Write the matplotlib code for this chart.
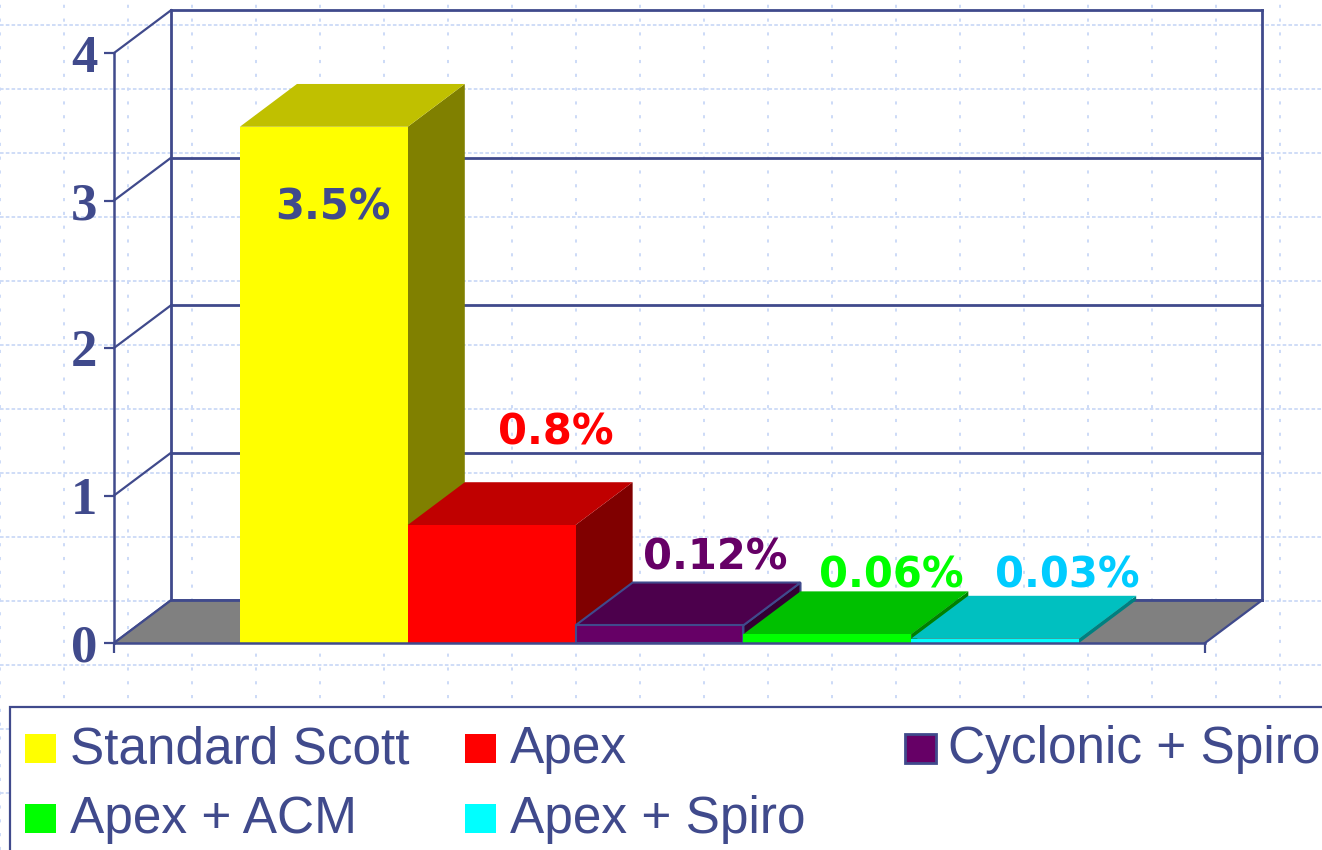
import numpy as np
import matplotlib
matplotlib.use("Agg")
import matplotlib.pyplot as plt
from matplotlib.patches import Rectangle, Polygon

# data
categories = ["Standard Scott", "Apex", "Cyclonic + Spiro", "Apex + ACM", "Apex + Spiro"]
values = [3.5, 0.8, 0.12, 0.06, 0.03]
labels = ["3.5%", "0.8%", "0.12%", "0.06%", "0.03%"]
y_ticks = [0, 1, 2, 3, 4]

# styles
front_cols = ["#FFFF00", "#FF0000", "#660066", "#00FF00", "#00FFFF"]
top_cols = ["#C0C000", "#C00000", "#4C004C", "#00C000", "#00C0C0"]
side_cols = ["#808000", "#800000", "#330033", "#008000", "#008080"]
label_cols = ["#404A8C", "#FF0000", "#660066", "#00FF00", "#00CCFF"]
label_pos = [(0.055, 2.95), (1.38, 1.43), (2.33, 0.58), (3.38, 0.46), (4.43, 0.46)]
navy = "#404A8C"
grid_col = "#CCDAF7"

W, H = 1322, 850
fig = plt.figure(figsize=(W / 100, H / 100), dpi=100)

# background dotted grid over the whole slide
bg = fig.add_axes([0, 0, 1, 1], zorder=0)
bg.set_xlim(0, W)
bg.set_ylim(H, 0)
bg.axis("off")
for y in np.arange(25, H, 64):
    bg.axhline(y, color=grid_col, lw=1.3, ls=(0, (2, 1.2)))
for x in np.arange(0, W + 1, 64):
    bg.axvline(x, color=grid_col, lw=1.4, ls=(0, (1.6, 5.5)))

# main axes: front plane of the 3d box
x0, x1 = -1.25, 5.25
ax = fig.add_axes([114 / W, 1 - 643 / H, (1205 - 114) / W, (643 - 53) / H], zorder=1)
ax.patch.set_alpha(0)
ax.set_xlim(x0, x1)
ax.set_ylim(0, 4)
ddx, ddy = 0.34, 0.29  # depth offset in data units

# back wall + side wall lines
for v in y_ticks:
    ax.plot([x0 + ddx, x1 + ddx], [v + ddy, v + ddy], color=navy, lw=2, clip_on=False, zorder=1)
    ax.plot([x0, x0 + ddx], [v, v + ddy], color=navy, lw=1.6, clip_on=False, zorder=1)
for xx in [x0 + ddx, x1 + ddx]:
    ax.plot([xx, xx], [ddy, 4 + ddy], color=navy, lw=2, clip_on=False, zorder=1)

# floor
ax.add_patch(Polygon([(x0, 0), (x1, 0), (x1 + ddx, ddy), (x0 + ddx, ddy)],
                     closed=True, facecolor="#808080", edgecolor="none", clip_on=False, zorder=2))
ax.plot([x0 + ddx, x1 + ddx], [ddy, ddy], color=navy, lw=2, clip_on=False, zorder=2)
ax.plot([x1, x1 + ddx], [0, ddy], color=navy, lw=1.6, clip_on=False, zorder=2)
ax.plot([x0, x0 + ddx], [0, ddy], color=navy, lw=1.6, clip_on=False, zorder=2)

# bars, left to right
for i, v in enumerate(values):
    ec = navy if i == 2 else "none"
    side = Polygon([(i + 0.5, 0), (i + 0.5, v), (i + 0.5 + ddx, v + ddy), (i + 0.5 + ddx, ddy)],
                   closed=True, facecolor=side_cols[i], edgecolor=ec, lw=1.5, clip_on=False, zorder=3)
    top = Polygon([(i - 0.5, v), (i + 0.5, v), (i + 0.5 + ddx, v + ddy), (i - 0.5 + ddx, v + ddy)],
                  closed=True, facecolor=top_cols[i], edgecolor=ec, lw=1.5, clip_on=False, zorder=3)
    front = Rectangle((i - 0.5, 0), 1, v, facecolor=front_cols[i], edgecolor=ec, lw=1.5,
                      clip_on=False, zorder=3)
    for p in (side, top, front):
        ax.add_patch(p)
    lx, ly = label_pos[i]
    ax.text(lx, ly, labels[i], color=label_cols[i], fontsize=30, family="DejaVu Sans",
            fontweight="bold", ha="center", va="center", zorder=5)

# spines / ticks
for s in ["top", "right"]:
    ax.spines[s].set_visible(False)
for s in ["left", "bottom"]:
    ax.spines[s].set_color(navy)
    ax.spines[s].set_linewidth(1.8)
    ax.spines[s].set_zorder(4)
ax.set_yticks(y_ticks)
ax.set_yticklabels([str(t) for t in y_ticks], family="Liberation Serif", fontweight="bold",
                   fontsize=38, color=navy)
ax.tick_params(axis="y", direction="out", length=7, width=1.6, color=navy, pad=5)
ax.set_xticks([x0, x1])
ax.set_xticklabels([])
ax.tick_params(axis="x", direction="out", length=7, width=1.6, color=navy)

# legend box drawn on the slide
leg = fig.add_axes([0, 0, 1, 1], zorder=2)
leg.set_xlim(0, W)
leg.set_ylim(H, 0)
leg.axis("off")
leg.add_patch(Rectangle((10, 707), W + 20, 200, facecolor="white", edgecolor=navy, lw=1.6))
sq_x = [25, 465, 905, 25, 465]
txt_x = [70, 510, 948, 70, 510]
row_y = [734, 734, 734, 804, 804]
base_y = [763, 763, 763, 833, 833]
for i, name in enumerate(categories):
    ec = navy if i == 2 else "none"
    leg.add_patch(Rectangle((sq_x[i], row_y[i]), 31, 29, facecolor=front_cols[i], edgecolor=ec, lw=2))
    leg.text(txt_x[i], base_y[i], name, family="Liberation Sans", fontsize=37, color=navy,
             ha="left", va="baseline")

fig.savefig("out.png", dpi=100)
